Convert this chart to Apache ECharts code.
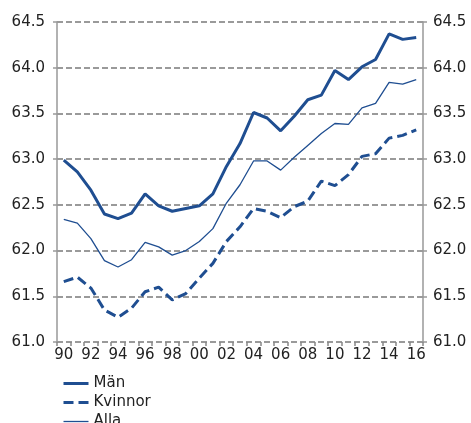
<!DOCTYPE html>
<html><head><meta charset="utf-8">
<script src="https://cdn.jsdelivr.net/npm/echarts@6/dist/echarts.min.js"></script>
<style>html,body{margin:0;padding:0;background:#fff}#c{width:471px;height:423px}</style>
</head><body><div id="c"></div>
<script>
const years = ['90','91','92','93','94','95','96','97','98','99','00','01','02','03','04','05','06','07','08','09','10','11','12','13','14','15','16'];
const man = [62.99,62.86,62.66,62.40,62.35,62.41,62.62,62.49,62.43,62.46,62.49,62.62,62.92,63.17,63.51,63.45,63.31,63.47,63.65,63.70,63.97,63.87,64.01,64.09,64.37,64.31,64.33];
const kvinnor = [61.66,61.71,61.59,61.35,61.27,61.37,61.55,61.60,61.46,61.53,61.70,61.86,62.10,62.26,62.46,62.43,62.36,62.48,62.54,62.76,62.71,62.83,63.03,63.06,63.23,63.26,63.32];
const alla = [62.34,62.30,62.13,61.89,61.82,61.90,62.09,62.04,61.95,62.00,62.10,62.24,62.52,62.72,62.98,62.98,62.88,63.02,63.15,63.28,63.39,63.38,63.56,63.61,63.84,63.82,63.87];
const seriesNames = ['Män','Kvinnor','Alla'];

const blue = '#1f4e91';
const font = 'DejaVu Sans';
const txt = '#222';
const chart = echarts.init(document.getElementById('c'), null, {renderer:'canvas'});
const yAxisBase = (pos, margin) => ({
  type:'value', position:pos, min:61, max:64.5, interval:0.5,
  axisLine:{show:true, lineStyle:{color:'#999', width:1.5}},
  axisTick:{show:true, length:4, lineStyle:{color:'#999', width:1.5}},
  axisLabel:{color:txt, fontFamily:font, fontSize:15, margin:margin, formatter:v=>v.toFixed(1)},
  splitLine:{show:pos==='left', lineStyle:{color:'#7a7a7a', width:1.5, type:[6,3]}}
});
chart.setOption({
  animation:false,
  grid:{left:57, right:48, top:22, bottom:81, containLabel:false},
  legend:{
    orient:'vertical', left:62, top:376, height:200, padding:0, itemWidth:25, itemHeight:10, itemGap:4,
    itemStyle:{color:'rgba(0,0,0,0)', borderWidth:0},
    lineStyle:{width:'inherit'},
    textStyle:{color:txt, fontFamily:font, fontSize:15},
    data:seriesNames
  },
  xAxis:{
    type:'category', data:years, boundaryGap:true,
    axisLine:{show:false},
    axisTick:{show:true, length:4, alignWithLabel:false, interval:0, lineStyle:{color:'#888', width:1.5}},
    axisLabel:{color:txt, fontFamily:font, fontSize:15, margin:6, interval:1}
  },
  yAxis:[yAxisBase('left', 12), yAxisBase('right', 10)],
  series:[
    {name:seriesNames[0], type:'line', data:man, symbol:'none', lineStyle:{color:blue, width:3}, itemStyle:{color:blue}},
    {name:seriesNames[1], type:'line', data:kvinnor, symbol:'none', lineStyle:{color:blue, width:3, type:[10,5]}, itemStyle:{color:blue}},
    {name:seriesNames[2], type:'line', data:alla, symbol:'none', lineStyle:{color:blue, width:1.3}, itemStyle:{color:blue}}
  ]
});
</script></body></html>
